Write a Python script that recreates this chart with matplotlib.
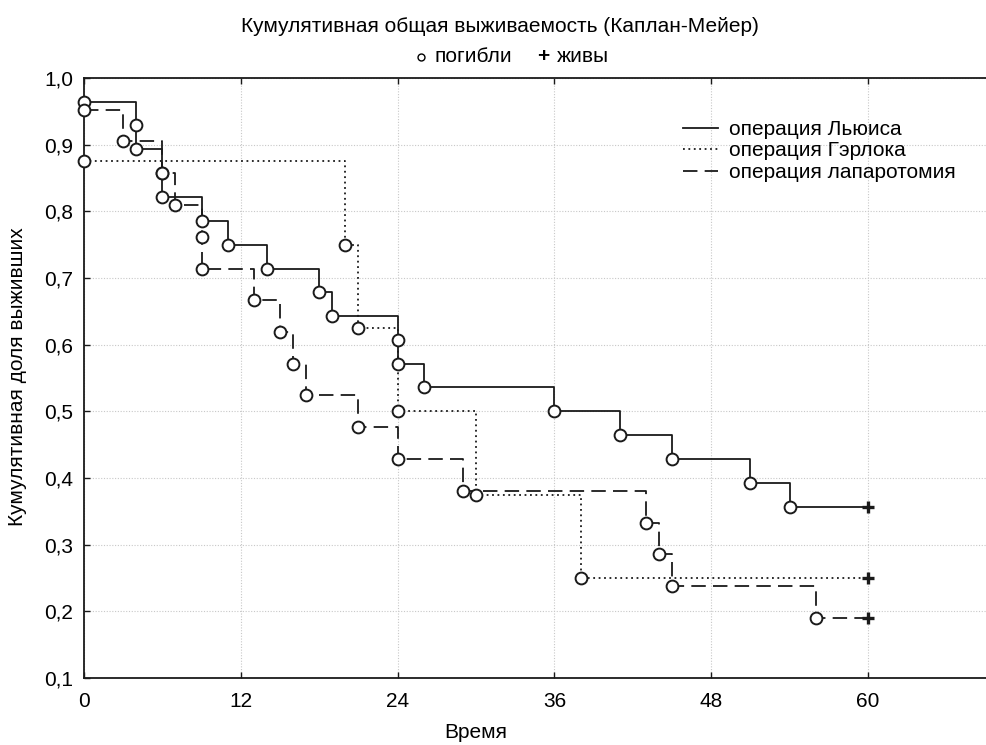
import matplotlib
matplotlib.use("Agg")
import matplotlib.pyplot as plt
from matplotlib.ticker import FuncFormatter, FixedLocator
from matplotlib.lines import Line2D

plt.rcParams['font.family'] = ['Liberation Sans', 'DejaVu Sans']

title = "Кумулятивная общая выживаемость (Каплан-Мейер)"
subtitle_dead = "погибли"
subtitle_alive = "живы"
xlabel = "Время"
ylabel = "Кумулятивная доля выживших"

series_names = ["операция Льюиса", "операция Гэрлока", "операция лапаротомия"]

lewis_t = [0, 4, 4, 6, 6, 9, 11, 14, 18, 19, 24, 24, 26, 36, 41, 45, 51, 54]
lewis_s = [0.964, 0.929, 0.893, 0.857, 0.821, 0.786, 0.750, 0.714, 0.679, 0.643,
           0.607, 0.571, 0.536, 0.500, 0.464, 0.429, 0.393, 0.357]
gerlock_t = [0, 20, 21, 24, 30, 38]
gerlock_s = [0.875, 0.750, 0.625, 0.500, 0.375, 0.250]
lap_t = [0, 3, 6, 7, 9, 9, 13, 15, 16, 17, 21, 24, 29, 43, 44, 45, 56]
lap_s = [0.952, 0.905, 0.857, 0.810, 0.762, 0.714, 0.667, 0.619, 0.571, 0.524,
         0.476, 0.429, 0.381, 0.333, 0.286, 0.238, 0.190]
censor_t = [60, 60, 60]

x_ticks = [0, 12, 24, 36, 48, 60]
y_ticks = [0.1, 0.2, 0.3, 0.4, 0.5, 0.6, 0.7, 0.8, 0.9, 1.0]

W, H = 986, 745
FS = 15
fig = plt.figure(figsize=(W / 100, H / 100), dpi=100)
left = 84 / W
bottom = 1 - 678 / H
top = 1 - 78 / H
ax = fig.add_axes([left, bottom, 1 - left, top - bottom])

ink = '#1a1a1a'
styles = [dict(linestyle='-'), dict(dashes=(1.0, 2.0)), dict(dashes=(8, 4))]
groups = [(lewis_t, lewis_s), (gerlock_t, gerlock_s), (lap_t, lap_s)]

handles = []
for (t, s), st, name, ct in zip(groups, styles, series_names, censor_t):
    xs = list(t) + [ct]
    ys = list(s) + [s[-1]]
    ax.plot(xs, ys, drawstyle='steps-post', color=ink, lw=1.3, zorder=3, **st)
    ax.plot(t, s, linestyle='none', marker='o', ms=8.5, mfc='white', mec=ink,
            mew=1.4, zorder=4, clip_on=False)
    ax.plot([ct], [s[-1]], linestyle='none', marker='+', ms=9, mec=ink,
            mew=2.4, zorder=4)
    handles.append(Line2D([0], [0], color=ink, lw=1.3, **st))

ax.set_xlim(0, 69.03)
ax.set_ylim(0.1, 1.0)
ax.xaxis.set_major_locator(FixedLocator(x_ticks))
ax.yaxis.set_major_locator(FixedLocator(y_ticks))
ax.yaxis.set_major_formatter(FuncFormatter(lambda v, p: f"{v:.1f}".replace('.', ',')))
ax.xaxis.set_major_formatter(FuncFormatter(lambda v, p: f"{int(round(v))}"))
ax.tick_params(axis='both', direction='in', length=4, width=1, colors=ink,
               labelsize=FS, labelcolor='black')
ax.tick_params(axis='x', pad=10, top=True)
ax.tick_params(axis='y', pad=8)
ax.grid(True, color='#c8c8c8', linestyle=(0, (1, 1.5)), lw=0.8)
ax.set_axisbelow(True)
for sp in ['left', 'bottom', 'top']:
    ax.spines[sp].set_color(ink)
    ax.spines[sp].set_linewidth(1.3)
ax.spines['right'].set_visible(False)

ax.legend(handles, series_names, loc='upper left', bbox_to_anchor=(0.664, 0.93),
          frameon=False, fontsize=FS, handlelength=1.7, handletextpad=0.5,
          labelspacing=0.12, borderaxespad=0, borderpad=0)

fig.text(500 / W, 1 - 27 / H, title, ha='center', va='center', fontsize=FS)
fig.add_artist(Line2D([421 / W], [1 - 57 / H], marker='o', ms=5, mfc='white',
                      mec='black', mew=1.0, linestyle='none', transform=fig.transFigure))
fig.text(434 / W, 1 - 56 / H, subtitle_dead, ha='left', va='center', fontsize=FS)
fig.text(543 / W, 1 - 56 / H, "+", ha='center', va='center', fontsize=FS, fontweight='bold')
fig.text(557 / W, 1 - 56 / H, subtitle_alive, ha='left', va='center', fontsize=FS)
fig.text(476 / W, 1 - 733 / H, xlabel, ha='center', va='center', fontsize=FS)
fig.text(18 / W, 1 - 377 / H, ylabel, ha='center', va='center', fontsize=FS, rotation=90)

fig.savefig('out.png', dpi=100)
